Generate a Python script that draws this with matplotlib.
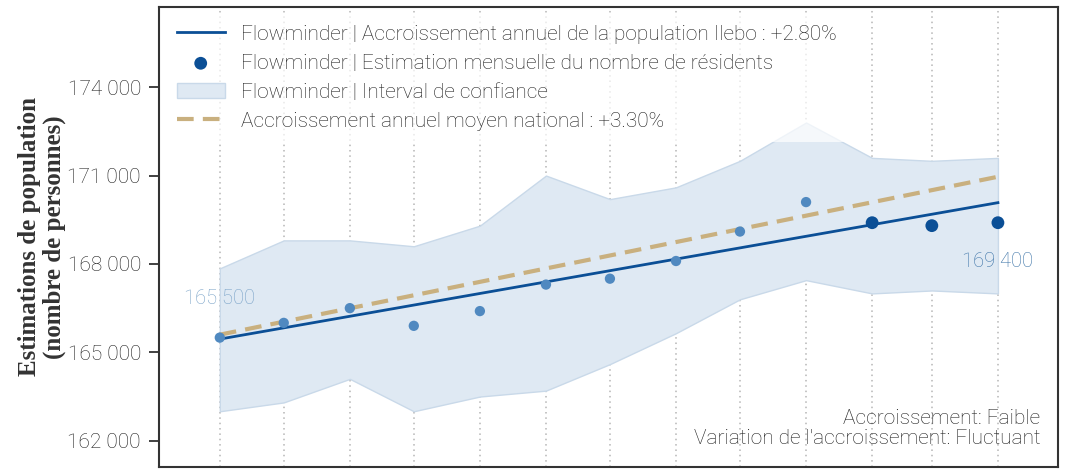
"""
Monthly resident estimates for Ilebo (Flowminder) with confidence band,
local trend and national average growth line.
"""

import matplotlib.pyplot as plt
import matplotlib.ticker as mticker
import pandas as pd

# ============================================================
# Data
# ============================================================
months = pd.date_range("2022-04-01", "2023-04-01", freq="MS")

estimates = [165500, 166000, 166500, 165900, 166400, 167300, 167500,
             168100, 169100, 170100, 169400, 169300, 169400]
ci_upper = [167850, 168800, 168800, 168600, 169300, 171000, 170200,
            170600, 171500, 172800, 171600, 171500, 171600]
ci_lower = [163000, 163300, 164100, 163000, 163500, 163700, 164600,
            165650, 166800, 167450, 167000, 167100, 167000]

# trend endpoints (first month, last month)
trend_local = [165450, 170080]
trend_national = [165600, 170960]

n_light = 10  # first points drawn lighter

label_first = "165 500"
label_last = "169 400"

legend_labels = [
    "Flowminder | Accroissement annuel de la population Ilebo : +2.80%",
    "Flowminder | Estimation mensuelle du nombre de résidents",
    "Flowminder | Interval de confiance",
    "Accroissement annuel moyen national : +3.30%",
]
note_text = "Accroissement: Faible\nVariation de l'accroissement: Fluctuant"
ylabel = "Estimations de population\n(nombre de personnes)"
yticks = [162000, 165000, 168000, 171000, 174000]

# ============================================================
# Style
# ============================================================
plt.rcParams["font.family"] = ["Roboto", "DejaVu Sans"]

TEXT = "#1c1c1c"
BLUE = "#0b4f96"
LIGHT_DOT = "#5089c0"
TAN = "#c9b07f"
BAND = "#dfe9f3"
BAND_EDGE = "#c9d9e9"

fig = plt.figure(figsize=(10.71, 4.69), dpi=100)
ax = fig.add_axes([0.1485, 0.005, 0.839, 0.98])

ax.fill_between(months, ci_lower, ci_upper, facecolor=BAND,
                edgecolor=BAND_EDGE, linewidth=1.0, zorder=1,
                label=legend_labels[2])

ends = [months[0], months[-1]]
ax.plot(ends, trend_local, color=BLUE, linewidth=2.0, zorder=3,
        label=legend_labels[0])
ax.plot(ends, trend_national, color=TAN, linewidth=3.0,
        linestyle=(0, (4, 2.2)), zorder=2, label=legend_labels[3])

ax.scatter(months[:n_light], estimates[:n_light], s=55, color=LIGHT_DOT,
           edgecolor="none", zorder=4)
ax.scatter(months[n_light:], estimates[n_light:], s=85, color=BLUE,
           edgecolor="none", zorder=4, label=legend_labels[1])

ax.annotate(label_first, (months[0], estimates[0]), xytext=(0, 28),
            textcoords="offset points", ha="center", va="center",
            fontsize=14.5, color="#7aa3c8", fontweight="light")
ax.annotate(label_last, (months[-1], estimates[-1]), xytext=(0, -28),
            textcoords="offset points", ha="center", va="center",
            fontsize=14.5, color="#3d74a8", fontweight="light")

ax.text(0.9805, 0.04, note_text, transform=ax.transAxes, ha="right",
        va="bottom", fontsize=15, color=TEXT, linespacing=1.1,
        fontweight="light")

# axes, ticks and grid
ax.set_xlim(months[0] - pd.Timedelta(days=28.5),
            months[-1] + pd.Timedelta(days=28))
ax.set_ylim(161120, 176720)
ax.set_xticks(months)
ax.tick_params(axis="x", length=0, labelbottom=False)
ax.grid(axis="x", color="#b5b5b5", linestyle=(0, (1, 2.5)), linewidth=1.1)
ax.set_axisbelow(True)

ax.set_yticks(yticks)
ax.yaxis.set_major_formatter(
    mticker.FuncFormatter(lambda v, _: f"{v:,.0f}".replace(",", " ")))
ax.tick_params(axis="y", length=7, width=1.3, color="#333333",
               labelsize=15, labelcolor=TEXT, pad=6)
for lab in ax.get_yticklabels():
    lab.set_fontweight("light")

for spine in ax.spines.values():
    spine.set_color("#333333")
    spine.set_linewidth(1.5)

ax.set_ylabel(ylabel, family=["Liberation Serif", "DejaVu Serif"],
              fontsize=18, fontweight="bold", color="#333333",
              linespacing=1.1, labelpad=1)

# legend in the reference order
handles, labels = ax.get_legend_handles_labels()
order = [labels.index(t) for t in legend_labels]
leg = ax.legend([handles[i] for i in order], [labels[i] for i in order],
                loc="upper left", fontsize=15, frameon=True,
                facecolor="white", edgecolor="none", framealpha=0.7,
                handlelength=2.3, handletextpad=0.8, labelspacing=0.48,
                borderaxespad=0.3, borderpad=0.55, labelcolor=TEXT)
for t in leg.get_texts():
    t.set_fontweight("light")

fig.savefig("out.png", dpi=100)
